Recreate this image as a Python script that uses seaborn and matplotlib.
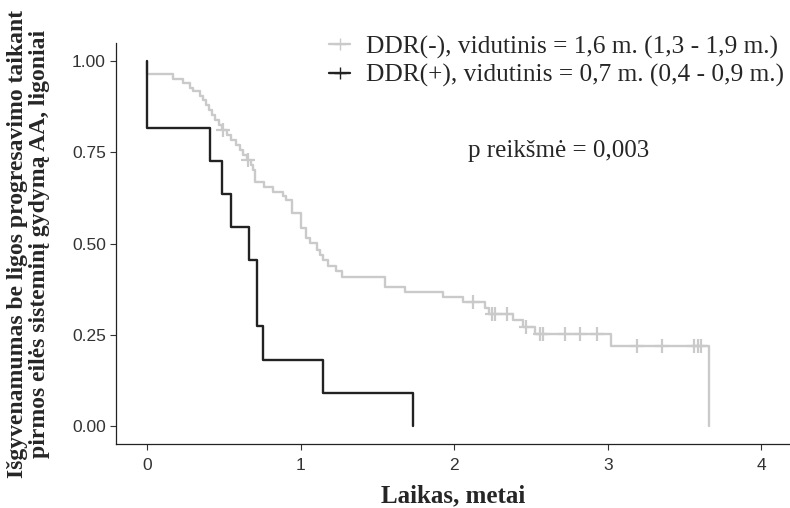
import numpy as np
import pandas as pd
import matplotlib
matplotlib.use("Agg")
import matplotlib.pyplot as plt
from matplotlib.lines import Line2D
import seaborn as sns

sns.set_style("white")

# DDR(-) group: Kaplan-Meier steps
NEG_TIME = [0.0, 0.0, 0.169, 0.234, 0.280, 0.299, 0.345, 0.365, 0.384, 0.404,
            0.423, 0.443, 0.469, 0.488, 0.521, 0.547, 0.579, 0.605, 0.625,
            0.651, 0.677, 0.690, 0.703, 0.762, 0.820, 0.885, 0.905, 0.944,
            1.000, 1.032, 1.061, 1.107, 1.126, 1.146, 1.178, 1.230, 1.270,
            1.549, 1.680, 1.927, 2.057, 2.201, 2.227, 2.383, 2.448, 2.526,
            3.021, 3.659]
NEG_SURV = [1.000, 0.964, 0.952, 0.940, 0.927, 0.918, 0.905, 0.893, 0.879, 0.866,
            0.852, 0.838, 0.825, 0.811, 0.797, 0.784, 0.770, 0.756, 0.742,
            0.729, 0.715, 0.701, 0.669, 0.656, 0.642, 0.630, 0.619, 0.584,
            0.542, 0.515, 0.501, 0.482, 0.468, 0.455, 0.438, 0.425, 0.408,
            0.381, 0.367, 0.353, 0.340, 0.323, 0.307, 0.290, 0.271, 0.252,
            0.220, 0.000]
NEG_CENSOR = [0.495, 0.655, 2.122, 2.246, 2.266, 2.344, 2.467, 2.559, 2.578,
              2.721, 2.819, 2.930, 3.190, 3.353, 3.561, 3.587, 3.607]

# DDR(+) group
POS_TIME = [0.0, 0.0, 0.41, 0.49, 0.55, 0.665, 0.716, 0.755, 1.146, 1.73]
POS_SURV = [1.000, 0.818, 0.727, 0.636, 0.545, 0.455, 0.273, 0.182, 0.091, 0.000]

LEGEND_LABELS = ["DDR(-), vidutinis = 1,6 m. (1,3 - 1,9 m.)",
                 "DDR(+), vidutinis = 0,7 m. (0,4 - 0,9 m.)"]
X_TICKS = [0, 1, 2, 3, 4]
Y_TICKS = [0.0, 0.25, 0.5, 0.75, 1.0]

GREY = "#cacaca"
DARK = "#222222"
SERIF = ["Liberation Serif", "DejaVu Serif"]
SANS = ["Liberation Sans", "DejaVu Sans"]

neg = pd.DataFrame({"t": NEG_TIME, "s": NEG_SURV})
pos = pd.DataFrame({"t": POS_TIME, "s": POS_SURV})
idx = np.searchsorted(NEG_TIME, NEG_CENSOR, side="right") - 1
cens = pd.DataFrame({"t": NEG_CENSOR, "s": np.array(NEG_SURV)[idx]})

fig = plt.figure(figsize=(7.9, 5.08), dpi=100)
ax = fig.add_axes([0.1472, 0.1255, 0.8516, 0.790])

sns.lineplot(data=neg, x="t", y="s", estimator=None, sort=False,
             drawstyle="steps-post", color=GREY, linewidth=1.7, ax=ax)
sns.lineplot(data=pos, x="t", y="s", estimator=None, sort=False,
             drawstyle="steps-post", color=DARK, linewidth=1.7, ax=ax)
sns.scatterplot(data=cens, x="t", y="s", marker="+", s=90, color=GREY,
                linewidth=1.6, ax=ax, zorder=3)

ax.set_xlim(-0.2, 4.18)
ax.set_ylim(-0.05, 1.05)
ax.set_xticks(X_TICKS)
ax.set_yticks(Y_TICKS)
ax.set_yticklabels([f"{v:.2f}" for v in Y_TICKS])
for lab in ax.get_xticklabels() + ax.get_yticklabels():
    lab.set_family(SANS)
    lab.set_fontsize(12.5)
    lab.set_color("#333333")
ax.tick_params(axis="x", pad=6)
ax.tick_params(axis="both", length=4, width=0.8, color="#333333",
               direction="out", left=True, bottom=True)

for side in ["top", "right"]:
    ax.spines[side].set_visible(False)
for side in ["left", "bottom"]:
    ax.spines[side].set_color("#222222")
    ax.spines[side].set_linewidth(0.9)

ax.set_xlabel("Laikas, metai", family=SERIF, fontsize=18, fontweight="bold",
              labelpad=8)
ax.set_ylabel("Išgyvenamumas be ligos progresavimo taikant\n"
              "pirmos eilės sisteminį gydymą AA, ligoniai",
              family=SERIF, fontsize=17, fontweight="bold", labelpad=16,
              linespacing=1.05)

ax.text(2.68, 0.755, "p reikšmė = 0,003", family=SERIF, fontsize=18,
        ha="center", va="center")

handles = [Line2D([], [], color=GREY, marker="+", markersize=9, linewidth=1.7),
           Line2D([], [], color=DARK, marker="+", markersize=9, linewidth=1.7)]
fig.legend(handles, LEGEND_LABELS, loc="upper right",
           bbox_to_anchor=(0.992, 0.93), frameon=False,
           prop={"family": SERIF, "size": 18.3}, handlelength=0.85,
           handletextpad=0.6, labelspacing=0.2, borderaxespad=0,
           borderpad=0)

fig.savefig("out.png", dpi=100)
